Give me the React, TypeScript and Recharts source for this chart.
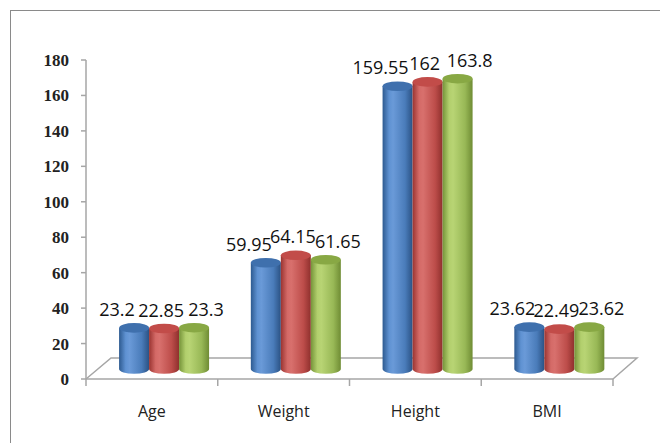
import React from "react";
import { BarChart, Bar, XAxis, YAxis, LabelList } from "recharts";

const categories = ["Age", "Weight", "Height", "BMI"];
const series1 = [23.2, 59.95, 159.55, 23.62];
const series2 = [22.85, 64.15, 162, 22.49];
const series3 = [23.3, 61.65, 163.8, 23.62];
const yTicks = [0, 20, 40, 60, 80, 100, 120, 140, 160, 180];

const data = categories.map((c, i) => ({ name: c, s1: series1[i], s2: series2[i], s3: series3[i] }));

const W = 660;
const H = 443;
const M_TOP = 60;
const M_RIGHT = 47;
const Y_W = 86;
const X_H = 64;
const PLOT_L = Y_W;
const PLOT_R = W - M_RIGHT;
const FLOOR_Y = H - X_H;
const BAND = (PLOT_R - PLOT_L) / categories.length;
const DEPTH_X = 12;
const DEPTH_Y = -10;
const FLOOR_DX = 25;
const FLOOR_DY = 21;
const AXIS_COLOR = "#a6a6a6";

const colors = [
  { id: "gBlue", top: "#3f70ad", stops: ["#2d5a90", "#5f92d2", "#6a9ad8", "#4a7cba", "#2b5284"] },
  { id: "gRed", top: "#c24c49", stops: ["#9a3431", "#d46a67", "#d8706d", "#bd4d4a", "#8f302d"] },
  { id: "gGreen", top: "#88a844", stops: ["#759339", "#b2cf6d", "#b8d474", "#98b856", "#6f8c34"] },
];

const makeShape = (ci: number) => (props: any) => {
  const { x, y, width, height } = props;
  if (width == null || height == null) return null;
  const left = x + DEPTH_X;
  const right = x + width + DEPTH_X;
  const top = y + DEPTH_Y;
  const bottom = y + height + DEPTH_Y;
  const rx = width / 2;
  const ry = 4.8;
  const c = colors[ci];
  const d = `M${left},${top} L${left},${bottom} A${rx},${ry} 0 0 0 ${right},${bottom} L${right},${top} Z`;
  return (
    <g>
      <path d={d} fill={`url(#${c.id})`} />
      <ellipse cx={left + rx} cy={top} rx={rx} ry={ry} fill={c.top} />
    </g>
  );
};

const labelOffsets = [-17, -3, 12];

const makeLabel = (ci: number) => (props: any) => {
  const { x, y, width, value } = props;
  const cx = x + width / 2 + DEPTH_X + labelOffsets[ci];
  const cy = y + DEPTH_Y - 19;
  return (
    <text
      x={cx}
      y={cy}
      textAnchor="middle"
      dominantBaseline="central"
      fontFamily="'Open Sans', sans-serif"
      fontSize={18}
      fill="#111"
    >
      {value}
    </text>
  );
};

const XTick = (props: any) => {
  const { x, y, payload, index } = props;
  const isLast = index === categories.length - 1;
  return (
    <g>
      <line x1={x - BAND / 2} y1={y} x2={x - BAND / 2} y2={y + 7} stroke={AXIS_COLOR} strokeWidth={1.5} />
      {isLast && (
        <line x1={x + BAND / 2} y1={y} x2={x + BAND / 2} y2={y + 7} stroke={AXIS_COLOR} strokeWidth={1.5} />
      )}
      <text
        x={x}
        y={y + 32}
        textAnchor="middle"
        dominantBaseline="central"
        fontFamily="'Open Sans', sans-serif"
        fontSize={16}
        fill="#222"
      >
        {payload.value}
      </text>
    </g>
  );
};

export default function App() {
  const floor = `M${PLOT_L},${FLOOR_Y} L${PLOT_L + FLOOR_DX},${FLOOR_Y - FLOOR_DY} L${PLOT_R + FLOOR_DX - 1},${FLOOR_Y - FLOOR_DY} L${PLOT_R},${FLOOR_Y}`;
  return (
    <div style={{ position: "absolute", left: 0, top: 0, width: W, height: H, overflow: "hidden", background: "#fff" }}>
      <div
        style={{
          position: "absolute",
          left: 10,
          top: 10,
          width: W - 10,
          height: H - 10,
          borderLeft: "1px solid #8a8a8a",
          borderTop: "1px solid #8a8a8a",
        }}
      />
      <svg style={{ position: "absolute", left: 0, top: 0 }} width={W} height={H}>
        <path d={floor} fill="none" stroke={AXIS_COLOR} strokeWidth={1.5} />
      </svg>
      <div style={{ position: "absolute", left: 0, top: 0 }}>
        <BarChart
          width={W}
          height={H}
          data={data}
          margin={{ top: M_TOP, right: M_RIGHT, left: 0, bottom: 0 }}
          barCategoryGap="16%"
          barGap={0}
        >
          <defs>
            {colors.map((c) => (
              <linearGradient key={c.id} id={c.id} x1="0" y1="0" x2="1" y2="0">
                <stop offset="0%" stopColor={c.stops[0]} />
                <stop offset="22%" stopColor={c.stops[1]} />
                <stop offset="35%" stopColor={c.stops[2]} />
                <stop offset="75%" stopColor={c.stops[3]} />
                <stop offset="100%" stopColor={c.stops[4]} />
              </linearGradient>
            ))}
          </defs>
          <XAxis
            dataKey="name"
            height={X_H}
            axisLine={{ stroke: AXIS_COLOR, strokeWidth: 1.5 }}
            tickLine={false}
            tickSize={0}
            tickMargin={0}
            tick={<XTick />}
            interval={0}
          />
          <YAxis
            width={Y_W}
            domain={[0, 180]}
            ticks={yTicks}
            interval={0}
            axisLine={{ stroke: AXIS_COLOR, strokeWidth: 1.5 }}
            tickLine={{ stroke: AXIS_COLOR, strokeWidth: 1.5 }}
            tickSize={5}
            tickMargin={12}
            tick={{ fontFamily: "'Liberation Serif', serif", fontWeight: "bold", fontSize: 17, fill: "#222" }}
          />
          <Bar dataKey="s1" isAnimationActive={false} shape={makeShape(0)}>
            <LabelList dataKey="s1" content={makeLabel(0)} />
          </Bar>
          <Bar dataKey="s2" isAnimationActive={false} shape={makeShape(1)}>
            <LabelList dataKey="s2" content={makeLabel(1)} />
          </Bar>
          <Bar dataKey="s3" isAnimationActive={false} shape={makeShape(2)}>
            <LabelList dataKey="s3" content={makeLabel(2)} />
          </Bar>
        </BarChart>
      </div>
    </div>
  );
}
